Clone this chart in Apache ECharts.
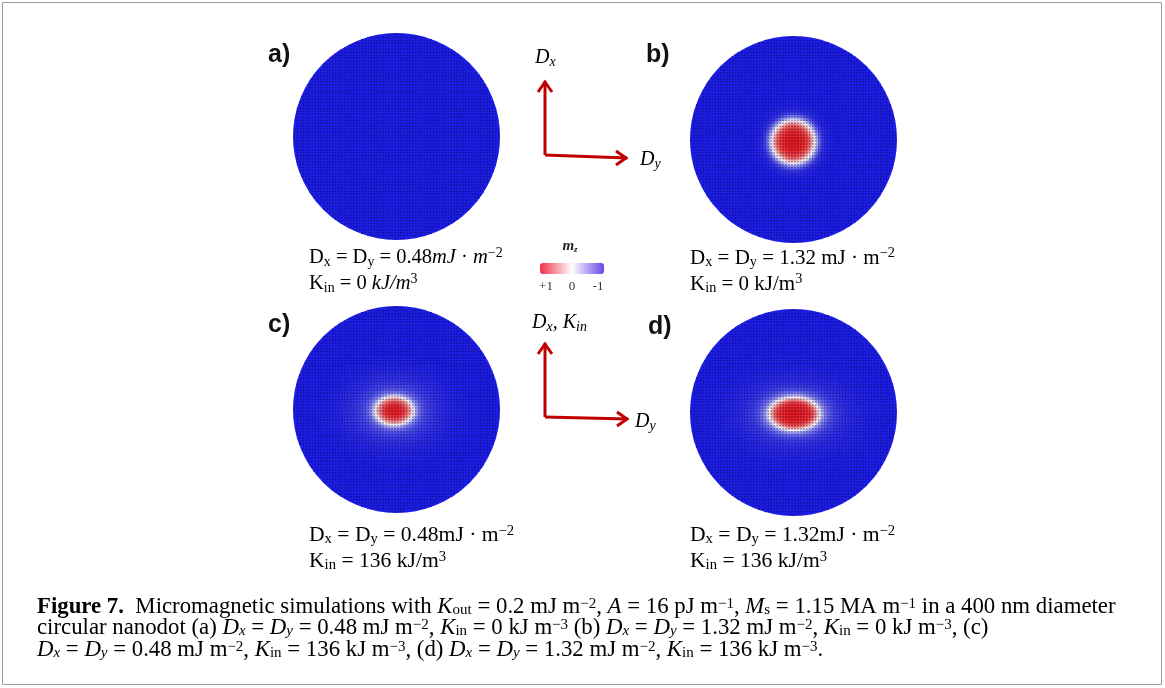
<!DOCTYPE html>
<html><head><meta charset="utf-8">
<script src="https://cdn.jsdelivr.net/npm/echarts@6/dist/echarts.min.js"></script>
<style>html,body{margin:0;padding:0;background:#fff}#c{width:1165px;height:688px}</style>
</head><body><div id="c"></div>
<script>
// ---- data ----
const panelLabels = ['a)', 'b)', 'c)', 'd)'];
const dotDiameterNm = 400;
const cellNm = 4;            // heatmap cell size
const latticeCount = 70;     // visible simulation-cell lattice (dark dots)
const profileRadiusNm = [0, 10, 20, 30, 36, 42, 48, 54, 60, 70, 80, 90, 100, 120, 150, 200];
const mzProfileA = [-1, -1, -1, -1, -1, -1, -1, -1, -1, -1, -1, -1, -1, -1, -1, -1];
const mzProfileB = [1, 1, 0.95, 0.75, 0.4, -0.05, -0.5, -0.8, -0.93, -0.98, -1, -1, -1, -1, -1, -1];
const mzProfileC = [1, 0.97, 0.85, 0.45, 0.05, -0.35, -0.6, -0.72, -0.8, -0.86, -0.9, -0.93, -0.95, -0.98, -1, -1];
const mzProfileD = [1, 1, 0.97, 0.9, 0.75, 0.45, 0.1, -0.3, -0.55, -0.75, -0.85, -0.9, -0.93, -0.96, -0.99, -1];
const coreOffsetXNm = [0, 0, -4, 2];
const coreOffsetYNm = [0, -4, -2, -2];
const coreAspectYX = [1, 1, 0.75, 0.65];
const colorbarTicks = ['+1', '0', '-1'];

// ---- build ----
const profiles = [mzProfileA, mzProfileB, mzProfileC, mzProfileD];
const mzColors = ['#1e1ee8', '#ffffff', '#ee1c1c'];
function lookup(prof, r) {
  const R = profileRadiusNm;
  if (r >= R[R.length - 1]) return prof[prof.length - 1];
  for (let k = 0; k < R.length - 1; k++) {
    if (r >= R[k] && r <= R[k + 1]) {
      const t = (r - R[k]) / (R[k + 1] - R[k]);
      return prof[k] + t * (prof[k + 1] - prof[k]);
    }
  }
  return prof[0];
}
const half = dotDiameterNm / 2;
const nCells = Math.round(dotDiameterNm / cellNm);
const cats = Array.from({length: nCells}, (_, i) => String(i));
function heatData(p) {
  const out = [];
  for (let i = 0; i < nCells; i++) for (let j = 0; j < nCells; j++) {
    const x = -half + (i + 0.5) * cellNm, y = -half + (j + 0.5) * cellNm;
    const fx = Math.abs(x) + cellNm / 2, fy = Math.abs(y) + cellNm / 2;
    if (fx * fx + fy * fy > half * half) continue;
    const dx = x - coreOffsetXNm[p], dy = (y - coreOffsetYNm[p]) / coreAspectYX[p];
    out.push([i, j, lookup(profiles[p], Math.sqrt(dx * dx + dy * dy))]);
  }
  return out;
}
function latticeData() {
  const out = [], step = dotDiameterNm / latticeCount;
  for (let i = 0; i < latticeCount; i++) for (let j = 0; j < latticeCount; j++) {
    const x = -half + (i + 0.5) * step, y = -half + (j + 0.5) * step;
    if (x * x + y * y > (half - 2) * (half - 2)) continue;
    out.push([x, y]);
  }
  return out;
}

const boxes = [[293, 33], [690, 36], [293, 306], [690, 309]];
const size = 207;
const grids = [], xAxes = [], yAxes = [], series = [];
boxes.forEach((b, p) => {
  grids.push({left: b[0], top: b[1], width: size, height: size});
  grids.push({left: b[0], top: b[1], width: size, height: size});
  xAxes.push({type: 'category', data: cats, gridIndex: 2 * p, show: false, boundaryGap: true});
  yAxes.push({type: 'category', data: cats, gridIndex: 2 * p, show: false, boundaryGap: true});
  xAxes.push({type: 'value', min: -half, max: half, gridIndex: 2 * p + 1, show: false});
  yAxes.push({type: 'value', min: -half, max: half, gridIndex: 2 * p + 1, show: false});
});
boxes.forEach((b, p) => {
  series.push({type: 'heatmap', xAxisIndex: 2 * p, yAxisIndex: 2 * p, data: heatData(p),
    progressive: 0, silent: true, animation: false, z: 2});
});
const lat = latticeData();
boxes.forEach((b, p) => {
  series.push({type: 'scatter', xAxisIndex: 2 * p + 1, yAxisIndex: 2 * p + 1, data: lat,
    symbol: 'rect', symbolSize: 1.5, itemStyle: {color: 'rgba(0,0,40,0.55)'},
    progressive: 0, large: false, silent: true, animation: false, z: 3});
});
series.push({type: 'scatter', xAxisIndex: 1, yAxisIndex: 1, data: [], silent: true});
// nanodot disc (fills the rim between square cells and the round edge)
boxes.forEach((b, p) => {
  series.push({type: 'custom', xAxisIndex: 2 * p + 1, yAxisIndex: 2 * p + 1, data: [[0, 0]], z: 1, silent: true,
    renderItem: function (params, api) {
      const c = api.coord([0, 0]);
      const e = api.coord([half, 0]);
      return {type: 'circle', shape: {cx: c[0], cy: c[1], r: e[0] - c[0]}, style: {fill: mzColors[0]}};
    }});
});

const serif = "'Liberation Serif', 'DejaVu Serif', serif";
function capRich(fs) {
  const s = fs * 0.68;
  return {
    n: {fontFamily: serif, fontSize: fs, lineHeight: 23, color: '#111'},
    i: {fontFamily: serif, fontSize: fs, fontStyle: 'italic', lineHeight: 23, color: '#111'},
    sub: {fontFamily: serif, fontSize: s, lineHeight: 14, verticalAlign: 'bottom', color: '#111'},
    sup: {fontFamily: serif, fontSize: s, lineHeight: 12, verticalAlign: 'top', color: '#111'}
  };
}
const capFont = [20.5, 21, 21.6, 21.6];
const panelCaps = [
  ['{n|D}{sub|x}{n| = D}{sub|y}{n| = 0.48}{i|mJ}{n| · }{i|m}{sup|−2}', '{n|K}{sub|in}{n| = 0 }{i|kJ/m}{sup|3}'],
  ['{n|D}{sub|x}{n| = D}{sub|y}{n| = 1.32 mJ · m}{sup|−2}', '{n|K}{sub|in}{n| = 0 kJ/m}{sup|3}'],
  ['{n|D}{sub|x}{n| = D}{sub|y}{n| = 0.48mJ · m}{sup|−2}', '{n|K}{sub|in}{n| = 136 kJ/m}{sup|3}'],
  ['{n|D}{sub|x}{n| = D}{sub|y}{n| = 1.32mJ · m}{sup|−2}', '{n|K}{sub|in}{n| = 136 kJ/m}{sup|3}']
];
const capPos = [[309, 258], [690, 258], [309, 535], [690, 535]];
const labelPos = [[268, 55], [646, 55], [268, 325], [648, 327]];

const figSerif = "'Liberation Serif', serif";
const FS = 22.8, FSS = 15;
const figRich = {
  b: {fontFamily: figSerif, fontSize: FS, fontWeight: 'bold', lineHeight: 21, color: '#222'},
  n: {fontFamily: figSerif, fontSize: FS, lineHeight: 21, color: '#222'},
  i: {fontFamily: figSerif, fontSize: FS, fontStyle: 'italic', lineHeight: 21, color: '#222'},
  sub: {fontFamily: figSerif, fontSize: FSS, lineHeight: 13, verticalAlign: 'bottom', color: '#222'},
  isub: {fontFamily: figSerif, fontSize: FSS, fontStyle: 'italic', lineHeight: 13, verticalAlign: 'bottom', color: '#222'},
  sup: {fontFamily: figSerif, fontSize: FSS, lineHeight: 10, verticalAlign: 'top', color: '#222'}
};
const figLines = [
  '{b|Figure 7.}{n|  Micromagnetic simulations with }{i|K}{sub|out}{n| = 0.2 mJ m}{sup|−2}{n|, }{i|A}{n| = 16 pJ m}{sup|−1}{n|, }{i|M}{sub|s}{n| = 1.15 MA m}{sup|−1}{n| in a 400 nm diameter}',
  '{n|circular nanodot (a) }{i|D}{isub|x}{n| = }{i|D}{isub|y}{n| = 0.48 mJ m}{sup|−2}{n|, }{i|K}{sub|in}{n| = 0 kJ m}{sup|−3}{n| (b) }{i|D}{isub|x}{n| = }{i|D}{isub|y}{n| = 1.32 mJ m}{sup|−2}{n|, }{i|K}{sub|in}{n| = 0 kJ m}{sup|−3}{n|, (c)}',
  '{i|D}{isub|x}{n| = }{i|D}{isub|y}{n| = 0.48 mJ m}{sup|−2}{n|, }{i|K}{sub|in}{n| = 136 kJ m}{sup|−3}{n|, (d) }{i|D}{isub|x}{n| = }{i|D}{isub|y}{n| = 1.32 mJ m}{sup|−2}{n|, }{i|K}{sub|in}{n| = 136 kJ m}{sup|−3}{n|.}'
];

const arrowRed = '#c00000';
function axisArrows(ox, oy, topY, endX, endY) {
  const st = {stroke: arrowRed, lineWidth: 3, fill: null, lineJoin: 'miter'};
  return [
    {type: 'polyline', shape: {points: [[ox, oy], [ox, topY]]}, style: st},
    {type: 'polyline', shape: {points: [[ox - 7, topY + 11], [ox, topY + 1], [ox + 7, topY + 11]]}, style: st},
    {type: 'polyline', shape: {points: [[ox, oy], [endX, endY]]}, style: st},
    {type: 'polyline', shape: {points: [[endX - 11, endY - 7], [endX - 1, endY], [endX - 11, endY + 7]]}, style: st}
  ];
}
const axRich = {
  i: {fontFamily: serif, fontSize: 20, fontStyle: 'italic', color: '#111', lineHeight: 22},
  isub: {fontFamily: serif, fontSize: 14, fontStyle: 'italic', color: '#111', lineHeight: 13, verticalAlign: 'bottom'}
};

const graphic = [
  {type: 'rect', shape: {x: 2.5, y: 2.5, width: 1159, height: 682}, style: {fill: null, stroke: '#9a9a9a', lineWidth: 1}, silent: true}
];
panelLabels.forEach((t, p) => graphic.push({type: 'text', x: labelPos[p][0], y: labelPos[p][1],
  style: {text: t, font: "bold 25px 'Liberation Sans', sans-serif", fill: '#111', verticalAlign: 'middle'}}));
panelCaps.forEach((lines, p) => lines.forEach((t, k) => graphic.push({type: 'text', x: capPos[p][0], y: capPos[p][1] + k * 26,
  style: {text: t, rich: capRich(capFont[p]), verticalAlign: 'middle'}})));
figLines.forEach((t, k) => graphic.push({type: 'text', x: 37, y: 607 + k * 21.5, style: {text: t, rich: figRich, verticalAlign: 'middle'}}));
axisArrows(545, 155, 81, 627, 158).forEach(g => graphic.push(g));
axisArrows(545, 417, 343, 628, 419).forEach(g => graphic.push(g));
graphic.push({type: 'text', x: 535, y: 58, style: {text: '{i|D}{isub|x}', rich: axRich, verticalAlign: 'middle'}});
graphic.push({type: 'text', x: 640, y: 160, style: {text: '{i|D}{isub|y}', rich: axRich, verticalAlign: 'middle'}});
graphic.push({type: 'text', x: 532, y: 323, style: {text: '{i|D}{isub|x}{i|, K}{isub|in}', rich: axRich, verticalAlign: 'middle'}});
graphic.push({type: 'text', x: 635, y: 422, style: {text: '{i|D}{isub|y}', rich: axRich, verticalAlign: 'middle'}});
// colorbar title and tick labels
graphic.push({type: 'text', x: 570, y: 246, style: {text: '{m|m}{z|z}', rich: {
  m: {fontFamily: serif, fontSize: 15, fontStyle: 'italic', fontWeight: 'bold', fill: '#222', lineHeight: 16},
  z: {fontFamily: serif, fontSize: 9, fontStyle: 'italic', fontWeight: 'bold', fill: '#222', lineHeight: 9, verticalAlign: 'bottom'}},
  align: 'center', verticalAlign: 'middle'}});
const tickX = [546, 572, 598];
colorbarTicks.forEach((t, k) => graphic.push({type: 'text', x: tickX[k], y: 287,
  style: {text: t, font: "13px 'Liberation Serif', serif", fill: '#333', align: 'center', verticalAlign: 'middle'}}));

const chart = echarts.init(document.getElementById('c'), null, {renderer: 'canvas'});
chart.setOption({
  animation: false,
  backgroundColor: '#fff',
  grid: grids, xAxis: xAxes, yAxis: yAxes,
  visualMap: [
    {type: 'continuous', show: false, min: -1, max: 1, dimension: 2, seriesIndex: [0, 1, 2, 3],
      inRange: {color: mzColors}},
    {type: 'continuous', show: true, min: -1, max: 1, seriesIndex: [8], orient: 'horizontal', inverse: true,
      left: 540, top: 263, itemWidth: 11, itemHeight: 64, padding: 0, calculable: false, text: null,
      inRange: {color: ['#6a44e8', '#ffffff', '#f0304a']}}
  ],
  series: series,
  graphic: graphic
});
</script></body></html>
